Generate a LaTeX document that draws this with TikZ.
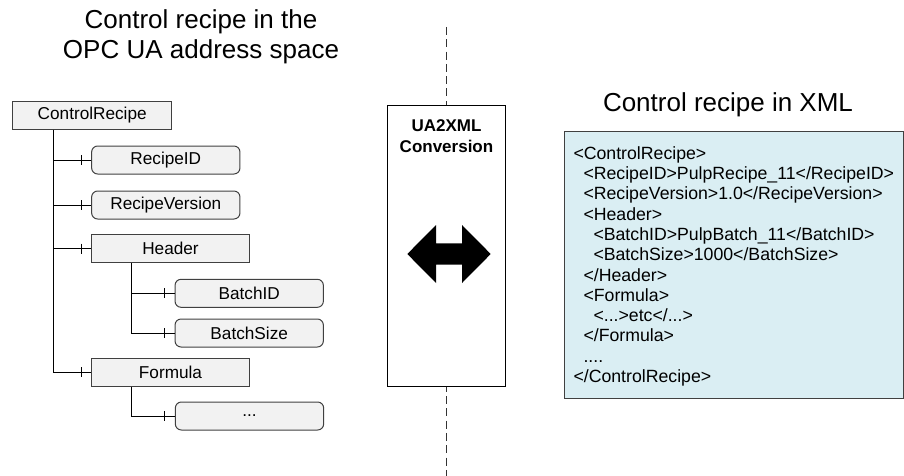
\documentclass[tikz,border=0pt]{standalone}
\usepackage{fontspec}
\setmainfont{Liberation Sans}
\definecolor{boxgray}{HTML}{404040}
\definecolor{treefill}{HTML}{F2F2F2}
\definecolor{xmlfill}{HTML}{DAEEF3}
\definecolor{dashgray}{HTML}{333333}
\begin{document}
\begin{tikzpicture}[x=1pt,y=-1pt,
  treebox/.style={draw=boxgray, fill=treefill, line width=1pt, minimum height=28pt, inner sep=0pt, font=\fontsize{17.2}{20.3}\selectfont},
  leafbox/.style={treebox, rounded corners=6pt, minimum width=148.3pt},
  innerbox/.style={treebox, minimum width=157.6pt},
  conn/.style={draw=black, line width=1pt},
  titletext/.style={font=\fontsize{26}{30}\selectfont, align=center, inner sep=0pt}
]
\useasboundingbox (0,0) rectangle (904,476);

% titles
\node[titletext, anchor=base] (tl1) at (201,29) {Control recipe in the};
\node[titletext, anchor=base] (tl2) at (201,59) {OPC UA address space};
\node[titletext, anchor=base] (tr) at (728,112) {Control recipe in XML};

% dashed separator
\coordinate (dtop) at (446.7,27);
\coordinate (dbot) at (446.7,476);
\draw[dashgray, line width=1pt, dash pattern=on 8pt off 4.3pt] (dtop) -- (dbot);

% conversion box
\node[draw=black, fill=white, line width=1pt, minimum width=118.4pt, minimum height=280pt, inner sep=0pt] (conv) at (446.5,246) {};
\node[font=\bfseries\fontsize{17}{20.3}\selectfont, align=center, inner sep=0pt, anchor=base] (convt) at (446.5,152) {UA2XML\\Conversion};
\coordinate (ac) at (449,254);
\fill[black, shift={(ac)}] (-41.7,0) -- (-13,-29) -- (-13,-10.7) -- (13,-10.7) -- (13,-29) -- (41.7,0) -- (13,29) -- (13,10.7) -- (-13,10.7) -- (-13,29) -- cycle;

% tree
\node[treebox, minimum width=159pt, minimum height=27pt] (CR) at (92.2,115.5) {ControlRecipe};
\node[leafbox] (RID) at (165.8,160) {RecipeID};
\node[leafbox] (RV) at (165.8,205) {RecipeVersion};
\node[innerbox] (H) at (170.5,248.7) {Header};
\node[leafbox] (BI) at (249.2,293.3) {BatchID};
\node[leafbox] (BS) at (249.2,333) {BatchSize};
\node[innerbox] (F) at (170.5,372) {Formula};
\node[leafbox] (E) at (249.5,416) {...};

\coordinate (t) at (53.3,0);
\coordinate (h) at (131.7,0);
\draw[conn] (CR.south -| t) |- (F.west);
\foreach \n in {RID,RV,H} {\draw[conn] (t |- \n.west) -- (\n.west);}
\draw[conn] (H.south -| h) |- (BS.west);
\draw[conn] (h |- BI.west) -- (BI.west);
\draw[conn] (F.south -| h) |- (E.west);
\foreach \n in {RID,RV,H,BI,BS,F,E} {\draw[conn] ([xshift=-10pt]\n.west) +(0,-5) -- +(0,5);}

% XML box
\node[draw=boxgray, fill=xmlfill, line width=1pt, minimum width=339pt, minimum height=266.6pt, inner sep=0pt] (xml) at (733.5,265) {};
\node[anchor=north west, align=left, inner sep=0pt, font=\fontsize{17.7}{20.3}\selectfont] (xmlt) at (573.3,146.2) {%
<ControlRecipe>\\
\hspace*{10pt}<RecipeID>PulpRecipe\_11</RecipeID>\\
\hspace*{10pt}<RecipeVersion>1.0</RecipeVersion>\\
\hspace*{10pt}<Header>\\
\hspace*{20pt}<BatchID>PulpBatch\_11</BatchID>\\
\hspace*{20pt}<BatchSize>1000</BatchSize>\\
\hspace*{10pt}</Header>\\
\hspace*{10pt}<Formula>\\
\hspace*{20pt}<...>etc</...>\\
\hspace*{10pt}</Formula>\\
\hspace*{10pt}....\\
</ControlRecipe>};
\end{tikzpicture}
\end{document}
